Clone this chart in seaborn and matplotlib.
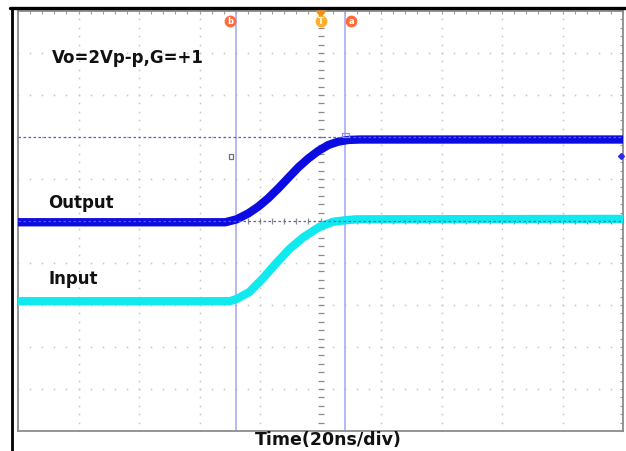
import numpy as np
import pandas as pd
import matplotlib
matplotlib.use("Agg")
import matplotlib.pyplot as plt
from matplotlib.lines import Line2D
from matplotlib.patches import Rectangle, Polygon
from matplotlib.ticker import MultipleLocator
import seaborn as sns

# ---- data (time in ns, amplitude in V; 20 ns/div, 1 V/div) ----
t_out = [-100, -31.5, -27.7, -23.9, -20.6, -17.3, -13.9, -10.6, -7.3, -4.0, -0.7, 2.6, 5.9, 9.2, 13, 100]
v_out = [-0.03, -0.03, 0.04, 0.18, 0.34, 0.54, 0.78, 1.03, 1.28, 1.49, 1.67, 1.81, 1.89, 1.93, 1.94, 1.94]

t_in = [-100, -30, -27.5, -23.5, -19.1, -14.7, -10.3, -5.9, -2.5, -0.3, 4.1, 8.5, 11.8, 100]
v_in = [-1.91, -1.91, -1.85, -1.69, -1.37, -1.01, -0.67, -0.40, -0.24, -0.14, -0.02, 0.02, 0.04, 0.05]

cursor_t = [-28, 8]          # vertical cursors b, a
cursor_v = [2.0, 0.0]        # horizontal cursors
labels_trace = ["Output", "Input"]
title_text = "Vo=2Vp-p,G=+1"
xlabel_text = "Time(20ns/div)"

W, H = 626, 451
def fx(px):
    return px / W
def fy(py):
    return 1 - py / H

sns.set_style("white")
fig = plt.figure(figsize=(W / 100, H / 100), dpi=100)
fig.patch.set_facecolor("white")

ax = fig.add_axes([fx(18), fy(431), (623 - 18) / W, (431 - 11) / H])
ax.set_xlim(-100, 100)
ax.set_ylim(-5, 5)
ax.set_facecolor("white")

for s in ax.spines.values():
    s.set_color("#8c8c8c")
    s.set_linewidth(1.3)
ax.xaxis.set_major_locator(MultipleLocator(20))
ax.xaxis.set_minor_locator(MultipleLocator(4))
ax.yaxis.set_major_locator(MultipleLocator(1))
ax.yaxis.set_minor_locator(MultipleLocator(0.2))
ax.tick_params(which="both", direction="in", length=2.5, width=0.8, color="#9a9a9a",
               top=True, right=True, labelbottom=False, labelleft=False)

# graticule dots
grid_c = "#c4c4c4"
ys = np.arange(-5, 5.001, 0.2)
xs = np.arange(-100, 100.001, 4)
for xv in range(-80, 81, 20):
    if xv == 0:
        continue
    ax.plot(np.full_like(ys, xv), ys, ls="none", marker="s", ms=1.1, mew=0, color=grid_c, zorder=1)
for yv in range(-4, 5):
    if yv == 0:
        continue
    ax.plot(xs, np.full_like(xs, yv), ls="none", marker="s", ms=1.1, mew=0, color=grid_c, zorder=1)
# center axes with ticks
ax.plot(np.zeros_like(ys), ys, ls="none", marker="_", ms=4, mew=0.9, color="#8a8a8a", zorder=1)
ax.plot(xs, np.zeros_like(xs), ls="none", marker="|", ms=4, mew=0.9, color="#8a8a8a", zorder=1)

# vertical cursors
for ct in cursor_t:
    ax.axvline(ct, color="#a4a4f4", lw=1.1, zorder=2)

# traces
df_out = pd.DataFrame({"t": t_out, "v": v_out})
df_in = pd.DataFrame({"t": t_in, "v": v_in})
sns.lineplot(data=df_out, x="t", y="v", color="#0b0be2", linewidth=6.0, ax=ax, zorder=3,
             solid_joinstyle="round", solid_capstyle="butt")
sns.lineplot(data=df_in, x="t", y="v", color="#10eaee", linewidth=6.0, ax=ax, zorder=3,
             solid_joinstyle="round", solid_capstyle="butt")
ax.set_xlabel("")
ax.set_ylabel("")

# horizontal cursors (dashed)
for cv in cursor_v:
    ax.axhline(cv, color="#5a5ad8", lw=0.9, ls=(0, (2, 2)), zorder=4)

# small markers
ax.add_patch(Rectangle((-30.3, 1.48), 1.5, 0.12, fill=False, ec="#707070", lw=0.9, zorder=5))
ax.add_patch(Rectangle((7.0, 2.0), 2.4, 0.1, fill=False, ec="#8888ee", lw=0.9, zorder=5))
ax.plot([99.2], [1.55], marker="D", ms=3, color="#2a2ae8", ls="none", zorder=5, clip_on=False)

# ---- figure-level decorations ----
fig.add_artist(Line2D([fx(10), fx(626)], [fy(8), fy(8)], color="black", lw=2.4))
fig.add_artist(Line2D([fx(12), fx(12)], [fy(8), fy(451)], color="black", lw=2.0))

# cursor labels b, T, a
fig.add_artist(Polygon([[fx(316.5), fy(11)], [fx(325.5), fy(11)], [fx(321), fy(17)]], closed=True,
                       transform=fig.transFigure, color="#f09010", zorder=5))
for px, txt, fc in [(230, "b", "#ff6a3c"), (321, "T", "#ffae2a"), (351, "a", "#ff6a3c")]:
    fig.add_artist(Line2D([fx(px)], [fy(21)], marker="o", ms=8.5, mew=0, color=fc, zorder=6))
    fig.text(fx(px), fy(21.5), txt, color="white", fontsize=6, fontweight="bold",
             ha="center", va="center", zorder=7)

# texts
fig.text(fx(52), fy(58), title_text, fontsize=12, fontweight="bold", ha="left", va="center",
         color="#111111")
fig.text(fx(48), fy(203), labels_trace[0], fontsize=12, fontweight="bold", ha="left", va="center",
         color="#111111")
fig.text(fx(49), fy(279), labels_trace[1], fontsize=12, fontweight="bold", ha="left", va="center",
         color="#111111")
fig.text(fx(328), fy(440), xlabel_text, fontsize=12.5, fontweight="bold", ha="center", va="center",
         color="#111111")

fig.savefig("out.png", dpi=100)
